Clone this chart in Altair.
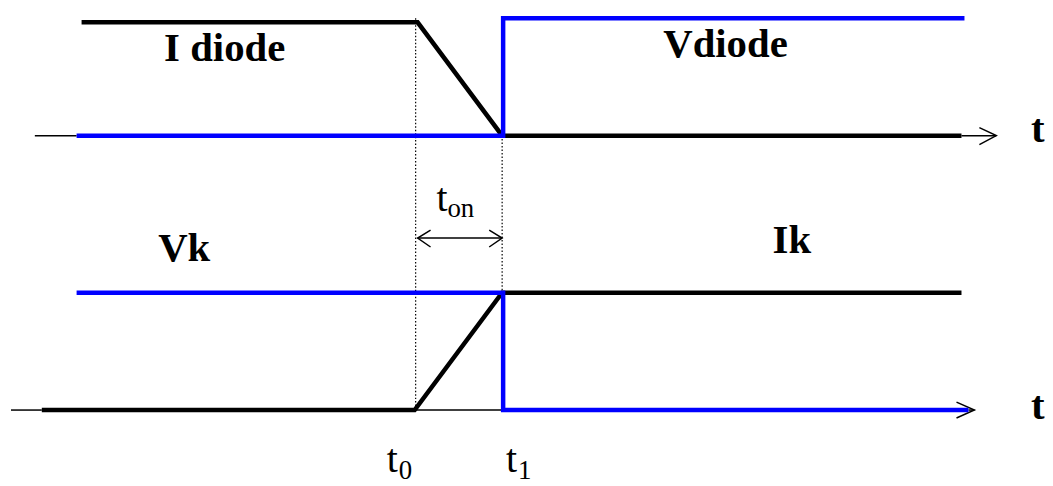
import altair as alt
import pandas as pd

# ---- waveform paths (x = time position, y = level position, diagram units) ----
i_diode_x = [80, 418, 503, 965]
i_diode_y = [18, 18, 132, 132]
v_diode_x = [75, 504, 504, 968]
v_diode_y = [132, 132, 14, 14]
i_k_x = [40, 415, 503, 965]
i_k_y = [408, 408, 290, 290]
v_k_x = [75, 504, 504, 972]
v_k_y = [290, 290, 408, 408]

# thin axis pieces and arrows
thin_paths = {
    "ax1a": ([33, 75], [132, 132]),
    "ax1b": ([965, 1000], [132, 132]),
    "ax1h": ([983, 1000, 983], [124, 132, 141]),
    "ax2a": ([9, 40], [408, 408]),
    "ax2b": ([415, 504], [408, 408]),
    "ax2c": ([972, 978], [408, 408]),
    "ax2h": ([960, 978, 960], [400, 408, 416]),
    "ton": ([418, 503], [235, 235]),
    "tonl": ([431, 418, 431], [227, 235, 244]),
    "tonr": ([490, 503, 490], [227, 235, 244]),
}
dotted_paths = {
    "t0": ([416, 416], [14, 408]),
    "t1": ([503, 503], [132, 290]),
}

bold_labels = ["I diode", "Vdiode", "Vk", "Ik", "t", "t"]
bold_x = [163, 665, 157, 775, 1035, 1035]
bold_y = [57, 53, 258, 250, 138, 417]

main_labels = ["t", "t", "t"]
main_x = [437, 387, 507]
main_y = [208, 470, 470]
sub_labels = ["on", "0", "1"]
sub_x = [448, 399, 519]
sub_y = [214, 477, 477]

BLUE = "#0000FF"
BLACK = "#000000"

rows = []
for pid, (xs_, ys_, col) in {
    "idiode": (i_diode_x, i_diode_y, BLACK),
    "ik": (i_k_x, i_k_y, BLACK),
    "vdiode": (v_diode_x, v_diode_y, BLUE),
    "vk": (v_k_x, v_k_y, BLUE),
}.items():
    for k, (a, b) in enumerate(zip(xs_, ys_)):
        rows.append({"pid": pid, "o": k, "x": a, "y": b, "c": col})
thick_df = pd.DataFrame(rows)

rows = []
for pid, (xs_, ys_) in thin_paths.items():
    for k, (a, b) in enumerate(zip(xs_, ys_)):
        rows.append({"pid": pid, "o": k, "x": a, "y": b})
thin_df = pd.DataFrame(rows)

rows = []
for pid, (xs_, ys_) in dotted_paths.items():
    for k, (a, b) in enumerate(zip(xs_, ys_)):
        rows.append({"pid": pid, "o": k, "x": a, "y": b})
dot_df = pd.DataFrame(rows)

xs = alt.Scale(domain=[8, 1045], nice=False, zero=False)
ys = alt.Scale(domain=[8, 478], reverse=True, nice=False, zero=False)
X = lambda: alt.X("x:Q", scale=xs, axis=None)
Y = lambda: alt.Y("y:Q", scale=ys, axis=None)

thin = alt.Chart(thin_df).mark_line(color=BLACK, strokeWidth=1.5).encode(
    x=X(), y=Y(), detail="pid:N", order="o:Q")
dotted = alt.Chart(dot_df).mark_line(color=BLACK, strokeWidth=1.2, strokeDash=[1.5, 2]).encode(
    x=X(), y=Y(), detail="pid:N", order="o:Q")
thick_black = alt.Chart(thick_df[thick_df.c == BLACK]).mark_line(
    color=BLACK, strokeWidth=4.5, strokeJoin="miter").encode(
    x=X(), y=Y(), detail="pid:N", order="o:Q")
thick_blue = alt.Chart(thick_df[thick_df.c == BLUE]).mark_line(
    color=BLUE, strokeWidth=4.5, strokeJoin="miter").encode(
    x=X(), y=Y(), detail="pid:N", order="o:Q")

bold_df = pd.DataFrame({"x": bold_x, "y": bold_y, "t": bold_labels})
bold = alt.Chart(bold_df).mark_text(
    font="Liberation Serif", fontWeight="bold", fontSize=41,
    align="left", baseline="alphabetic", color=BLACK).encode(x=X(), y=Y(), text="t:N")

main_df = pd.DataFrame({"x": main_x, "y": main_y, "t": main_labels})
main = alt.Chart(main_df).mark_text(
    font="Liberation Serif", fontSize=40,
    align="left", baseline="alphabetic", color=BLACK).encode(x=X(), y=Y(), text="t:N")
sub_df = pd.DataFrame({"x": sub_x, "y": sub_y, "t": sub_labels})
sub = alt.Chart(sub_df).mark_text(
    font="Liberation Serif", fontSize=27,
    align="left", baseline="alphabetic", color=BLACK).encode(x=X(), y=Y(), text="t:N")

chart = alt.layer(dotted, thin, thick_black, thick_blue, bold, main, sub).properties(
    width=1037, height=470, padding=0
).configure_view(stroke=None)

chart.save("out.html", embed_options={"renderer": "svg", "actions": False})
